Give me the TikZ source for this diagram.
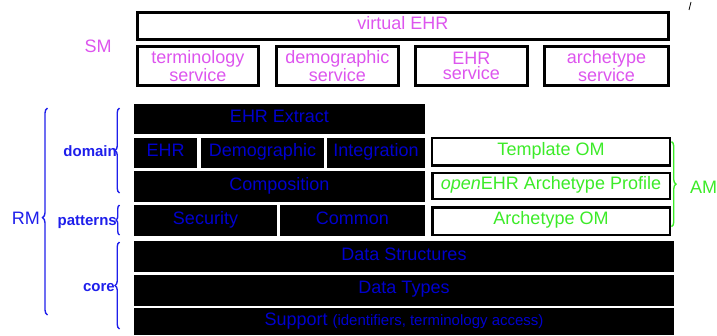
\documentclass[tikz,border=0pt]{standalone}
\usepackage{fontspec}
\setmainfont{Liberation Sans}
\usetikzlibrary{decorations.pathreplacing}
\definecolor{smmag}{RGB}{221,85,238}
\definecolor{boxblue}{RGB}{0,0,205}
\definecolor{rmblue}{RGB}{30,30,235}
\definecolor{amgreen}{RGB}{60,235,40}
\tikzset{
  big/.style={font=\fontsize{18}{15}\selectfont},
  blk/.style={big, fill=black, draw=none, inner sep=0pt, text=boxblue, text height=13pt, text depth=6pt},
  wbox/.style={big, draw=black, line width=2.5pt, fill=white, inner sep=0pt, text=amgreen, text height=13pt, text depth=6pt},
  smbox/.style={big, draw=black, line width=3pt, inner sep=0pt, text=smmag},
  svc/.style={smbox, align=center, minimum height=39.3pt},
  lvl/.style={font=\fontsize{15}{15}\selectfont\bfseries, text=rmblue, inner sep=0pt},
  bracel/.style={decorate, decoration={brace, amplitude=4.5pt}, line width=1.4pt},
}
\begin{document}
\begin{tikzpicture}[x=1pt,y=-1pt]
\useasboundingbox (0,0) rectangle (717,335);
% SM
\node[smbox, minimum width=531pt, minimum height=27pt, text height=13pt, text depth=6pt] (vehr) at (402.8,25.7) {virtual EHR};
\node[svc, minimum width=121.3pt, yshift=2pt] (term) at (197.8,67.8) {terminology\\service};
\node[svc, minimum width=122.3pt, yshift=2pt] (dems) at (337.3,67.8) {demographic\\service};
\node[svc, minimum width=112.3pt, yshift=2pt] (ehrs) at (471.3,67.8) {EHR\\service};
\node[svc, minimum width=124pt, yshift=2pt] (arcs) at (606.5,67.8) {archetype\\service};
\node[big, text=smmag, anchor=base, inner sep=0pt] (sm) at (98,52.3) {SM};
\draw[line width=0.8pt] (691,2) -- (689,10);
% RM black blocks
\node[blk, minimum width=291pt, minimum height=30pt] (ext) at (279.5,119) {EHR Extract};
\node[blk, minimum width=63pt, minimum height=30pt] (ehr) at (165.5,153) {EHR};
\node[blk, minimum width=123pt, minimum height=30pt] (demo) at (262.5,153) {Demographic};
\node[blk, minimum width=98pt, minimum height=30pt] (integ) at (376,153) {Integration};
\node[blk, minimum width=291pt, minimum height=31pt] (comp) at (279.5,186.5) {Composition};
\node[blk, minimum width=143pt, minimum height=31pt] (sec) at (205.5,220.5) {Security};
\node[blk, minimum width=145pt, minimum height=31pt] (com) at (352.5,220.5) {Common};
\node[blk, minimum width=540pt, minimum height=31pt] (ds) at (404,256.5) {Data Structures};
\node[blk, minimum width=540pt, minimum height=31pt] (dt) at (404,290) {Data Types};
\node[blk, minimum width=540pt, minimum height=27pt] (sup) at (404,321.5) {Support {\fontsize{15}{15}\selectfont (identifiers, terminology access)}};
% AM boxes
\node[wbox, minimum width=238pt, minimum height=27.7pt, yshift=1.5pt] (tom) at (551,153.2) {Template OM};
\node[wbox, minimum width=237.5pt, minimum height=26pt] (prof) at (551,185.8) {\textit{open}EHR Archetype Profile};
\node[wbox, minimum width=237.5pt, minimum height=27.5pt] (aom) at (551,221) {Archetype OM};
% labels
\node[big, text=rmblue, anchor=base east, inner sep=0pt] (rm) at (40,224) {RM};
\node[lvl, anchor=base east] (dom) at (117,156.7) {domain};
\node[lvl, anchor=base east] (pat) at (117,225) {patterns};
\node[lvl, anchor=base east] (core) at (115,291.7) {core};
\node[big, text=amgreen, anchor=base west, inner sep=0pt] (am) at (690,193.3) {AM};
% braces
\draw[bracel, rmblue, decoration={aspect=0.47, amplitude=5pt}] (47.5,315) -- (47.5,108);
\draw[bracel, rmblue] (119.5,193) -- (119.5,108);
\draw[bracel, rmblue, decoration={amplitude=3.5pt}] (119.5,235) -- (119.5,205);
\draw[bracel, rmblue] (119.5,329) -- (119.5,242);
\draw[bracel, amgreen] (671.5,141.7) -- (671.5,226.7);
\end{tikzpicture}
\end{document}
